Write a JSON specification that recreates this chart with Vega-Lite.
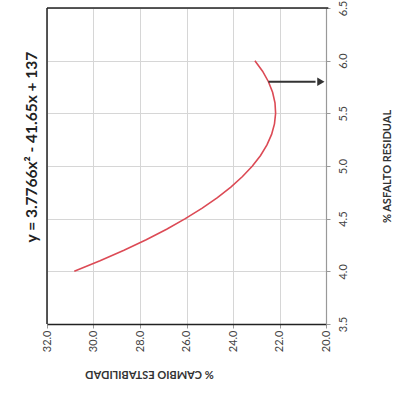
{
  "$schema": "https://vega.github.io/schema/vega-lite/v6.json",
  "width": 279,
  "height": 316,
  "padding": {"left": 25, "top": 0, "right": 0, "bottom": 12},
  "background": "white",
  "config": {"view": {"stroke": null}, "font": "Lato"},
  "datasets": {
    "curva": [
      {"asfalto": 4.0, "estab": 30.826},
      {"asfalto": 4.1, "estab": 29.720},
      {"asfalto": 4.2, "estab": 28.689},
      {"asfalto": 4.3, "estab": 27.734},
      {"asfalto": 4.4, "estab": 26.855},
      {"asfalto": 4.5, "estab": 26.051},
      {"asfalto": 4.6, "estab": 25.323},
      {"asfalto": 4.7, "estab": 24.670},
      {"asfalto": 4.8, "estab": 24.093},
      {"asfalto": 4.9, "estab": 23.591},
      {"asfalto": 5.0, "estab": 23.165},
      {"asfalto": 5.1, "estab": 22.814},
      {"asfalto": 5.2, "estab": 22.539},
      {"asfalto": 5.3, "estab": 22.340},
      {"asfalto": 5.4, "estab": 22.216},
      {"asfalto": 5.5, "estab": 22.167},
      {"asfalto": 5.6, "estab": 22.194},
      {"asfalto": 5.7, "estab": 22.297},
      {"asfalto": 5.8, "estab": 22.475},
      {"asfalto": 5.9, "estab": 22.728},
      {"asfalto": 6.0, "estab": 23.058}
    ],
    "bordes": [
      {"linea": "izq", "estab": 32, "asfalto": 3.5}, {"linea": "izq", "estab": 32, "asfalto": 6.5},
      {"linea": "sup", "estab": 32, "asfalto": 6.5}, {"linea": "sup", "estab": 19.9, "asfalto": 6.5}
    ],
    "flecha": [{"asfalto": 5.8, "estab": 22.475, "hasta": 20.45}],
    "punta": [{"asfalto": 5.8, "estab": 20.22}],
    "ecuacion": [{"asfalto": 5.18, "estab": 32.63, "texto": "y = 3.7766x² - 41.65x + 137"}]
  },
  "layer": [
    {
      "data": {"name": "bordes"},
      "mark": {"type": "line", "color": "#222", "strokeWidth": 1.5},
      "encoding": {
        "detail": {"field": "linea", "type": "nominal"},
        "x": {
          "field": "estab",
          "type": "quantitative",
          "scale": {"domain": [20, 32], "reverse": true, "nice": false, "zero": false},
          "axis": {
            "title": "% CAMBIO ESTABILIDAD",
            "orient": "bottom",
            "grid": true,
            "gridColor": "#d6d6d6",
            "tickCount": 6,
            "format": ".1f",
            "labelAngle": -90,
            "labelFontSize": 11,
            "labelColor": "#444",
            "tickColor": "#999",
            "tickSize": 4,
            "domainColor": "#222",
            "domainWidth": 1.5,
            "titleAngle": 180,
            "titleFontSize": 11,
            "titleFontWeight": "bold",
            "titleColor": "#333",
            "titleX": 102,
            "titlePadding": 28
          }
        },
        "y": {
          "field": "asfalto",
          "type": "quantitative",
          "scale": {"domain": [3.5, 6.5], "nice": false, "zero": false},
          "axis": {
            "title": "% ASFALTO RESIDUAL",
            "orient": "right",
            "grid": true,
            "gridColor": "#d6d6d6",
            "tickCount": 6,
            "format": ".1f",
            "labelAngle": -90,
            "labelFontSize": 11,
            "labelColor": "#444",
            "labelPadding": 7,
            "tickColor": "#999",
            "tickSize": 4,
            "domainColor": "#999",
            "domainWidth": 1.2,
            "titleAngle": -90,
            "titleFontSize": 11,
            "titleFontWeight": "bold",
            "titleColor": "#333",
            "titlePadding": 44
          }
        }
      }
    },
    {
      "data": {"name": "curva"},
      "mark": {"type": "line", "color": "#dc4a55", "strokeWidth": 1.6, "interpolate": "linear"},
      "encoding": {
        "order": {"field": "asfalto", "type": "quantitative"},
        "x": {"field": "estab", "type": "quantitative"},
        "y": {"field": "asfalto", "type": "quantitative"}
      }
    },
    {
      "data": {"name": "flecha"},
      "mark": {"type": "rule", "color": "#333", "strokeWidth": 2.2},
      "encoding": {
        "x": {"field": "estab", "type": "quantitative"},
        "x2": {"field": "hasta"},
        "y": {"field": "asfalto", "type": "quantitative"}
      }
    },
    {
      "data": {"name": "punta"},
      "mark": {"type": "point", "shape": "triangle-right", "filled": true, "color": "#333", "opacity": 1, "size": 70},
      "encoding": {
        "x": {"field": "estab", "type": "quantitative"},
        "y": {"field": "asfalto", "type": "quantitative"}
      }
    },
    {
      "data": {"name": "ecuacion"},
      "mark": {"type": "text", "angle": 270, "fontSize": 15.5, "fontWeight": "bold", "color": "#222", "align": "center", "baseline": "middle"},
      "encoding": {
        "x": {"field": "estab", "type": "quantitative"},
        "y": {"field": "asfalto", "type": "quantitative"},
        "text": {"field": "texto"}
      }
    }
  ]
}
